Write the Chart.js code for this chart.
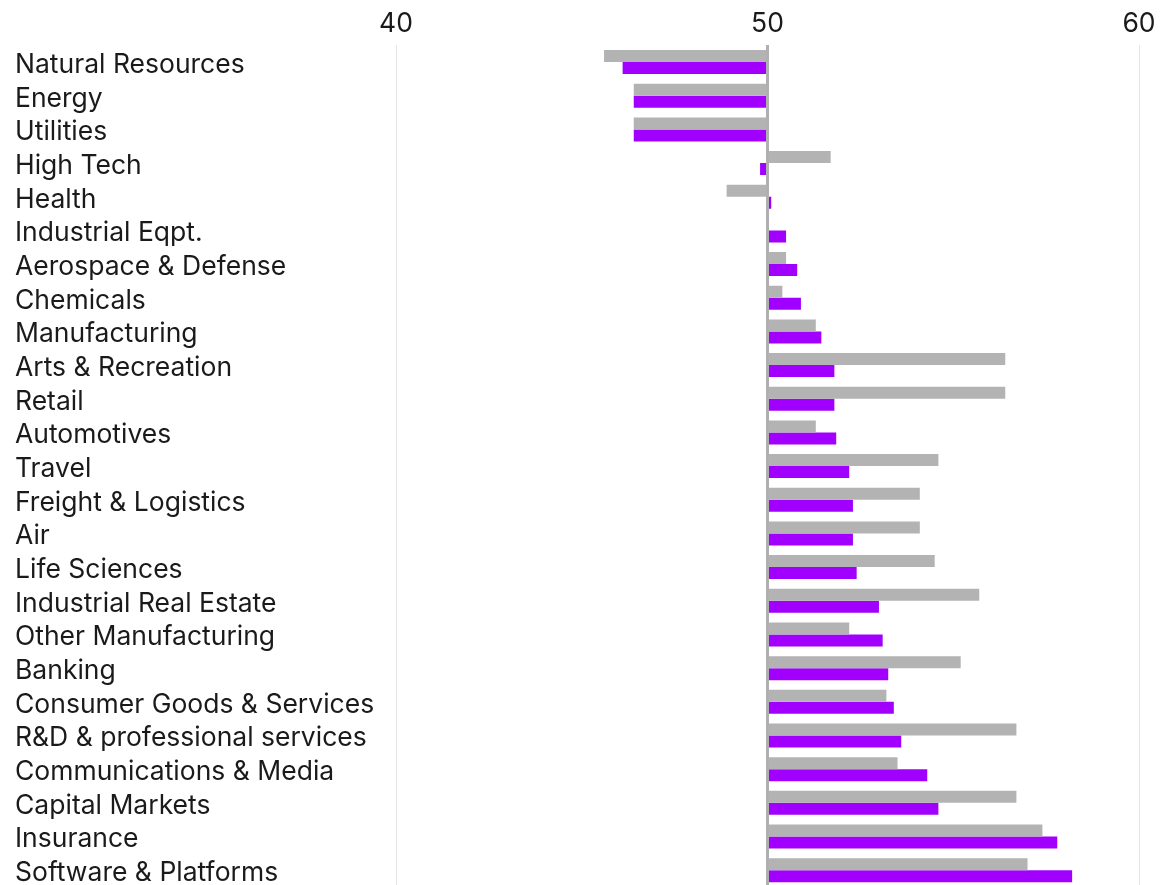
<!DOCTYPE html>
<html>
<head>
<meta charset="utf-8">
<script src="https://cdn.jsdelivr.net/npm/chart.js@4/dist/chart.umd.min.js"></script>
<style>
  html, body { margin: 0; padding: 0; background: #fff; overflow: hidden; }
  #wrap { position: relative; width: 1160px; height: 887px; }
</style>
</head>
<body>
<div id="wrap"><canvas id="myChart"></canvas></div>
<script>
'use strict';

var industries = [
  'Natural Resources', 'Energy', 'Utilities', 'High Tech', 'Health',
  'Industrial Eqpt.', 'Aerospace & Defense', 'Chemicals', 'Manufacturing',
  'Arts & Recreation', 'Retail', 'Automotives', 'Travel', 'Freight & Logistics',
  'Air', 'Life Sciences', 'Industrial Real Estate', 'Other Manufacturing',
  'Banking', 'Consumer Goods & Services', 'R&D & professional services',
  'Communications & Media', 'Capital Markets', 'Insurance', 'Software & Platforms'
];

// gray bars (top of each pair)
var grayValues = [
  45.6, 46.4, 46.4, 51.7, 48.9,
  50.0, 50.5, 50.4, 51.3,
  56.4, 56.4, 51.3, 54.6, 54.1,
  54.1, 54.5, 55.7, 52.2,
  55.2, 53.2, 56.7,
  53.5, 56.7, 57.4, 57.0
];

// purple bars (bottom of each pair)
var purpleValues = [
  46.1, 46.4, 46.4, 49.8, 50.1,
  50.5, 50.8, 50.9, 51.45,
  51.8, 51.8, 51.85, 52.2, 52.3,
  52.3, 52.4, 53.0, 53.1,
  53.25, 53.4, 53.6,
  54.3, 54.6, 57.8, 58.2
];

var xTicks = [40, 50, 60];
var baseValue = 50;

var labelFont = { family: 'Inter', size: 26.5 };

var ctx = document.getElementById('myChart').getContext('2d');
var chart = new Chart(ctx, {
  type: 'bar',
  data: {
    labels: industries,
    datasets: [
      {
        label: 'Gray series',
        data: grayValues,
        base: baseValue,
        backgroundColor: '#b3b3b3',
        borderWidth: 0
      },
      {
        label: 'Purple series',
        data: purpleValues,
        base: baseValue,
        backgroundColor: '#a100ff',
        borderWidth: 0
      }
    ]
  },
  options: {
    indexAxis: 'y',
    responsive: true,
    maintainAspectRatio: false,
    animation: false,
    layout: { padding: { left: 15, right: 21, top: 0, bottom: 0 } },
    plugins: {
      legend: { display: false },
      tooltip: { enabled: false }
    },
    datasets: {
      bar: { categoryPercentage: 0.713, barPercentage: 1 }
    },
    scales: {
      x: {
        position: 'top',
        min: xTicks[0],
        max: xTicks[xTicks.length - 1],
        z: 1,
        afterBuildTicks: function (scale) {
          scale.ticks = xTicks.map(function (v) { return { value: v }; });
        },
        afterFit: function (scale) {
          scale.height = 45.2;
          scale.paddingLeft = 0;
          scale.paddingRight = 0;
        },
        border: { display: false },
        grid: {
          drawTicks: false,
          color: function (c) { return c.tick && c.tick.value === baseValue ? '#b0b0b0' : '#e6e6e6'; },
          lineWidth: function (c) { return c.tick && c.tick.value === baseValue ? 3 : 1; }
        },
        ticks: {
          padding: 5.2,
          color: '#1a1a1a',
          font: labelFont
        }
      },
      y: {
        afterFit: function (scale) {
          scale.width = 381;
          scale.paddingTop = 0;
          scale.paddingBottom = 0;
        },
        border: { display: false },
        grid: { display: false, drawTicks: false },
        ticks: {
          crossAlign: 'far',
          padding: 0,
          labelOffset: 3,
          autoSkip: false,
          color: '#1a1a1a',
          font: labelFont
        }
      }
    }
  }
});
</script>
</body>
</html>
